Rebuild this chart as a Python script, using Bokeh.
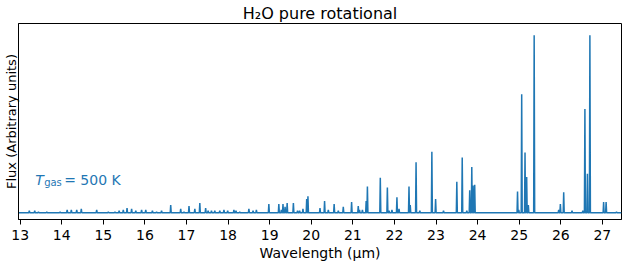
from bokeh.plotting import figure
from bokeh.models import Range1d, Label, FixedTicker, ColumnDataSource
from bokeh.embed import file_html
from bokeh.resources import INLINE

# ---- data ----
line_center_um = [
    13.22, 13.35, 13.44, 13.64, 13.96, 14.13, 14.23, 14.36, 14.47, 14.84,
    15.12, 15.28, 15.38, 15.48, 15.57, 15.68, 15.78, 15.92, 16.02, 16.18,
    16.28, 16.40, 16.62, 16.86, 16.94, 17.06, 17.20, 17.32, 17.46, 17.52,
    17.60, 17.68, 17.80, 17.90, 17.99, 18.14, 18.19, 18.28, 18.50, 18.60,
    18.68, 18.98, 19.22, 19.28, 19.32, 19.37, 19.42, 19.57, 19.67, 19.72,
    19.80, 19.89, 19.92, 20.21, 20.32, 20.41, 20.55, 20.65, 20.77, 20.97,
    21.13, 21.16, 21.23, 21.32, 21.35, 21.66, 21.83, 21.87, 21.94, 22.06,
    22.11, 22.35, 22.38, 22.52, 22.61, 22.90, 22.99, 23.18, 23.50, 23.63,
    23.74, 23.81, 23.86, 23.89, 23.93, 24.96, 24.99, 25.06, 25.14, 25.18,
    25.22, 25.36, 25.95, 25.99, 26.07, 26.27, 26.53, 26.58, 26.64, 26.70,
    27.03, 27.09, 27.34,
]
line_flux = [
    0.011, 0.011, 0.005, 0.005, 0.005, 0.016, 0.016, 0.016, 0.022, 0.016,
    0.005, 0.005, 0.011, 0.016, 0.027, 0.022, 0.011, 0.016, 0.016, 0.011,
    0.005, 0.011, 0.044, 0.022, 0.005, 0.038, 0.022, 0.055, 0.027, 0.011,
    0.011, 0.011, 0.011, 0.016, 0.011, 0.016, 0.011, 0.005, 0.022, 0.011,
    0.016, 0.049, 0.049, 0.016, 0.049, 0.033, 0.055, 0.055, 0.011, 0.011,
    0.022, 0.077, 0.093, 0.027, 0.066, 0.016, 0.049, 0.011, 0.033, 0.060,
    0.038, 0.016, 0.016, 0.066, 0.148, 0.197, 0.142, 0.011, 0.016, 0.087,
    0.022, 0.148, 0.044, 0.284, 0.011, 0.344, 0.077, 0.011, 0.175, 0.311,
    0.011, 0.126, 0.257, 0.153, 0.158, 0.120, 0.016, 0.667, 0.339, 0.202,
    0.044, 1.000, 0.016, 0.049, 0.115, 0.011, 0.011, 0.585, 0.219, 1.000,
    0.060, 0.060, 0.005,
]
x_ticks = list(range(13, 28))
x_limits = (12.96, 27.46)
y_limits = (-0.038, 1.066)
title_text = "H\u2082O pure rotational"
x_label = "Wavelength (\u03bcm)"
y_label = "Flux (Arbitrary units)"
temp_symbol = "T"
temp_subscript = "gas"
temp_value = "= 500 K"

# ---- build the spectrum path from the line list ----
half_width = 0.012
xs = [x_limits[0]]
ys = [0.0]
for c, f in sorted(zip(line_center_um, line_flux)):
    xs += [c - half_width, c, c + half_width]
    ys += [0.0, f, 0.0]
xs.append(x_limits[1])
ys.append(0.0)
src = ColumnDataSource(dict(wl=xs, flux=ys))

BLUE = "#1f77b4"
FONT = "DejaVu Sans"

p = figure(
    frame_width=603, frame_height=196,
    x_range=Range1d(*x_limits), y_range=Range1d(*y_limits),
    output_backend="svg", toolbar_location=None,
    min_border_left=17, min_border_right=1, min_border_top=0, min_border_bottom=0,
    background_fill_color="white", border_fill_color="white",
)
p.line("wl", "flux", source=src, line_color=BLUE, line_width=1.5)

p.title.text = title_text
p.title.align = "center"
p.title.text_font = FONT
p.title.text_font_size = "16px"
p.title.text_font_style = "normal"
p.title.text_color = "black"
p.title.standoff = 2

p.xgrid.visible = False
p.ygrid.visible = False
p.outline_line_color = "black"
p.outline_line_width = 1
p.outline_line_alpha = 1

xa = p.xaxis[0]
xa.ticker = FixedTicker(ticks=x_ticks)
xa.minor_tick_line_color = None
xa.major_tick_out = 5
xa.major_tick_in = 0
xa.major_tick_line_color = "black"
xa.axis_line_color = "black"
xa.major_label_text_font = FONT
xa.major_label_text_font_size = "14px"
xa.major_label_text_color = "black"
xa.major_label_standoff = 5
xa.axis_label = x_label
xa.axis_label_text_font = FONT
xa.axis_label_text_font_size = "14px"
xa.axis_label_text_font_style = "normal"
xa.axis_label_text_color = "black"
xa.axis_label_standoff = 2

ya = p.yaxis[0]
ya.ticker = FixedTicker(ticks=[])
ya.minor_tick_line_color = None
ya.major_tick_out = 0
ya.major_tick_in = 0
ya.major_label_standoff = 0
ya.axis_line_color = "black"
ya.axis_label = y_label
ya.axis_label_text_font = FONT
ya.axis_label_text_font_size = "13px"
ya.axis_label_text_font_style = "normal"
ya.axis_label_text_color = "black"
ya.axis_label_standoff = 0

# temperature annotation
lx, ly = 13.36, 0.186
p.add_layout(Label(x=lx, y=ly, text=temp_symbol, text_font=FONT, text_font_size="14px",
                   text_font_style="italic", text_color=BLUE, text_baseline="alphabetic"))
p.add_layout(Label(x=lx, y=ly, x_offset=9, y_offset=-3, text=temp_subscript, text_font=FONT,
                   text_font_size="10px", text_color=BLUE, text_baseline="alphabetic"))
p.add_layout(Label(x=lx, y=ly, x_offset=29, text=temp_value, text_font=FONT, text_font_size="14px",
                   text_color=BLUE, text_baseline="alphabetic"))

open("out.html", "w").write(file_html(p, INLINE))
